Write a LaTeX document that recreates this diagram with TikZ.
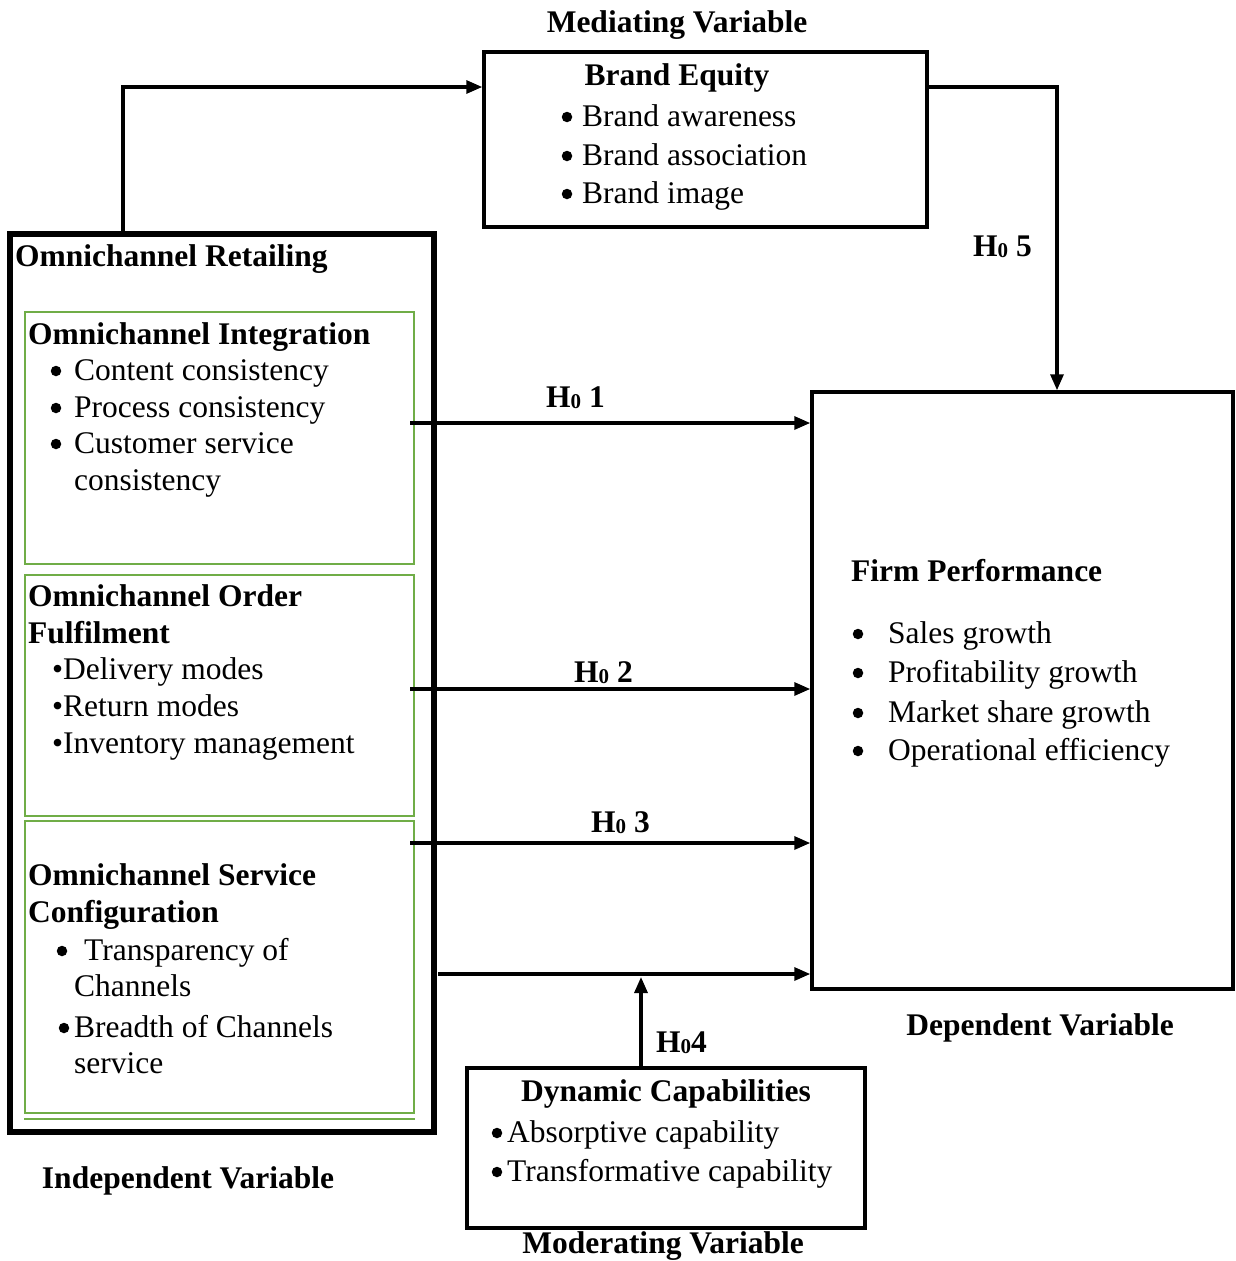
\documentclass[tikz,border=0pt]{standalone}
\usepackage{fontspec}
\setmainfont{Liberation Serif}
\usetikzlibrary{arrows.meta,fit}
\definecolor{grn}{RGB}{112,173,71}
\newcommand\Hz[1]{H\raisebox{-1.5pt}{\fontsize{21}{21}\selectfont 0}#1}
\begin{document}
\begin{tikzpicture}[x=1pt,y=-1pt,
  every node/.style={inner sep=0pt, font=\fontsize{31.5}{37}\selectfont},
  tx/.style={anchor=base west},
  tb/.style={anchor=base west, font=\fontsize{31.5}{37}\selectfont\bfseries},
  tc/.style={anchor=base, font=\fontsize{31.5}{37}\selectfont\bfseries},
  bul/.style={circle, fill, inner sep=0pt, minimum size=10.5pt},
  blk/.style={draw, line width=3.5pt, inner sep=0pt},
  gbox/.style={draw=grn, line width=2pt, inner sep=0pt},
  arr/.style={line width=3.2pt, -{Triangle[length=16pt,width=13pt]}}]
\useasboundingbox[fill=white] (0,0) rectangle (1236,1261);

% boxes
\node[blk, fit={(484,52)(927,227)}] (be) {};
\node[blk, fit={(812,392)(1233,989)}] (fp) {};
\node[blk, fit={(467,1068)(865,1228)}] (dc) {};
\node[draw, line width=5.5pt, inner sep=0pt, fit={(10,234)(434,1132)}] (or) {};
\node[gbox, fit={(25,312)(414,564)}] (oi) {};
\node[gbox, fit={(25,575)(414,816)}] (of) {};
\node[gbox, fit={(25,821)(414,1113)}] (os) {};
\draw[draw=grn, line width=2pt] ([yshift=-5pt]os.south west) -- ([yshift=-5pt]os.south east);

% connectors
\coordinate (c1) at (123,87);
\draw[arr] (c1 |- or.north) -- (c1) -- (c1 -| be.west);
\coordinate (c5) at (1057,87);
\draw[arr] (c5 -| be.east) -- (c5) -- (c5 |- fp.north);
\coordinate (h1) at (410,423);
\draw[arr] (h1) -- (h1 -| fp.west);
\coordinate (h2) at (410,689);
\draw[arr] (h2) -- (h2 -| fp.west);
\coordinate (h3) at (410,843);
\draw[arr] (h3) -- (h3 -| fp.west);
\coordinate (h4) at (438,974);
\draw[arr] (h4) -- (h4 -| fp.west);
\coordinate (m4) at (641,977);
\draw[arr] (m4 |- dc.north) -- (m4);

% category labels
\node[tc] (mv) at (677,32) {Mediating Variable};
\node[tc] (dv) at (1040,1035) {Dependent Variable};
\node[tc] (iv) at (188,1188) {Independent Variable};
\node[tc] (modv) at (663,1253) {Moderating Variable};

% hypothesis labels
\node[tb] (l1) at (546,407) {\Hz{\ 1}};
\node[tb] (l2) at (574,682) {\Hz{\ 2}};
\node[tb] (l3) at (591,832) {\Hz{\ 3}};
\node[tb] (l4) at (656,1052) {\Hz{4}};
\node[tb] (l5) at (973,256) {\Hz{\ 5}};

% brand equity
\node[tc] (bet) at (677,85) {Brand Equity};
\node[bul] (bb1) at (567,117) {};
\node[tx] (bt1) at (582,126) {Brand awareness};
\node[bul] (bb2) at (567,156) {};
\node[tx] (bt2) at (582,165) {Brand association};
\node[bul] (bb3) at (567,194) {};
\node[tx] (bt3) at (582,203) {Brand image};

% omnichannel retailing
\node[tb] (ort) at (15,266) {Omnichannel Retailing};

\node[tb] (oit) at (28,344) {Omnichannel Integration};
\node[bul] (ib1) at (56,371) {};
\node[tx] (it1) at (74,380) {Content consistency};
\node[bul] (ib2) at (56,408) {};
\node[tx] (it2) at (74,417) {Process consistency};
\node[bul] (ib3) at (56,444) {};
\node[tx] (it3) at (74,453) {Customer service};
\node[tx] (it4) at (74,490) {consistency};

\node[tb] (oft1) at (28,606) {Omnichannel Order};
\node[tb] (oft2) at (28,643) {Fulfilment};
\node[tx] (ft1) at (52,679) {•Delivery modes};
\node[tx] (ft2) at (52,716) {•Return modes};
\node[tx] (ft3) at (52,753) {•Inventory management};

\node[tb] (ost1) at (28,885) {Omnichannel Service};
\node[tb] (ost2) at (28,922) {Configuration};
\node[bul] (sb1) at (62,951) {};
\node[tx] (st1) at (84,960) {Transparency of};
\node[tx] (st2) at (74,996) {Channels};
\node[bul] (sb2) at (64,1028) {};
\node[tx] (st3) at (74,1037) {Breadth of Channels};
\node[tx] (st4) at (74,1073) {service};

% firm performance
\node[tb] (fpt) at (851,581) {Firm Performance};
\node[bul] (fb1) at (858,634) {};
\node[tx] (ft1b) at (888,643) {Sales growth};
\node[bul] (fb2) at (858,673) {};
\node[tx] (ft2b) at (888,682) {Profitability growth};
\node[bul] (fb3) at (858,713) {};
\node[tx] (ft3b) at (888,722) {Market share growth};
\node[bul] (fb4) at (858,751) {};
\node[tx] (ft4b) at (888,760) {Operational efficiency};

% dynamic capabilities
\node[tc] (dct) at (666,1101) {Dynamic Capabilities};
\node[bul] (db1) at (497,1133) {};
\node[tx] (dt1) at (507,1142) {Absorptive capability};
\node[bul] (db2) at (497,1172) {};
\node[tx] (dt2) at (507,1181) {Transformative capability};
\end{tikzpicture}
\end{document}
